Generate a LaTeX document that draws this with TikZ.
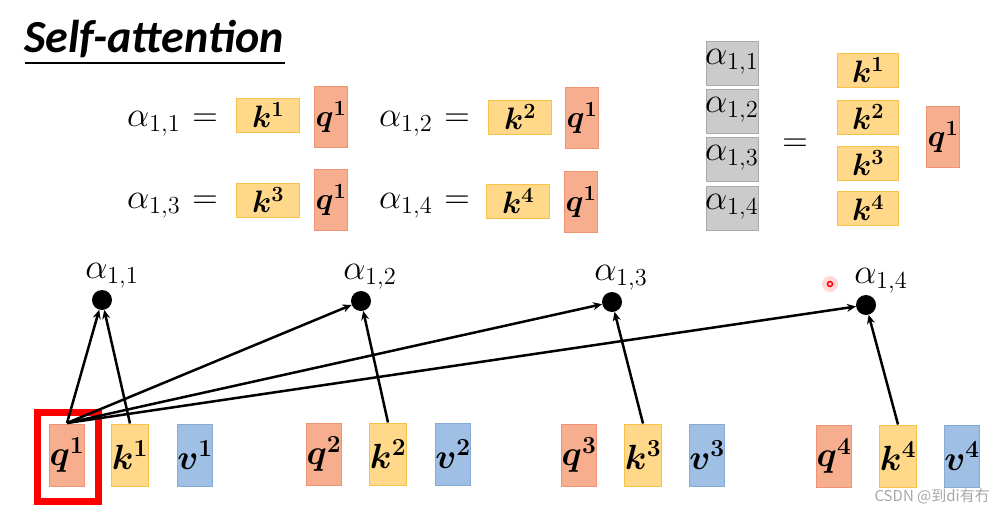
\RequirePackage{fix-cm}
\documentclass[tikz,border=0pt]{standalone}
\usepackage{amsmath}
\usepackage{bm}
\usepackage{graphicx}
\usepackage{fontspec}
\newfontfamily\titlefont{Carlito}
\newfontfamily\cjk{Noto Sans CJK SC}
\usetikzlibrary{arrows.meta}
\newcommand{\amath}[1]{\scalebox{1.7}{$#1$}}
\definecolor{qfill}{HTML}{F6AE8E}
\definecolor{qdraw}{HTML}{EE9472}
\definecolor{kfill}{HTML}{FFD88A}
\definecolor{kdraw}{HTML}{F7C14A}
\definecolor{vfill}{HTML}{9FC0E4}
\definecolor{vdraw}{HTML}{86AAD6}
\definecolor{gfill}{HTML}{CBCBCB}
\definecolor{gdraw}{HTML}{A9A9A9}
\tikzset{
  qbox/.style={draw=qdraw, line width=1pt, fill=qfill, inner sep=0pt, minimum width=34pt, minimum height=62pt},
  kbox/.style={draw=kdraw, line width=1pt, fill=kfill, inner sep=0pt, minimum width=34pt, minimum height=62pt},
  vbox/.style={draw=vdraw, line width=1pt, fill=vfill, inner sep=0pt, minimum width=34pt, minimum height=62pt},
  ktop/.style={draw=kdraw, line width=1pt, fill=kfill, inner sep=0pt, minimum width=63pt, minimum height=34pt},
  qtop/.style={draw=qdraw, line width=1pt, fill=qfill, inner sep=0pt, minimum width=33pt, minimum height=61pt},
  gbox/.style={draw=gdraw, line width=1pt, fill=gfill, inner sep=0pt, minimum width=52pt, minimum height=44pt},
  mtxt/.style={font=\fontsize{20.74}{24}\selectfont, inner sep=0pt},
  btxt/.style={font=\fontsize{35}{38}\selectfont},
  ttxt/.style={font=\fontsize{31}{35}\selectfont},
  dot/.style={circle, fill=black, inner sep=0pt, minimum size=20pt},
  arr/.style={line width=2.5pt, -{Stealth[length=9pt,width=8pt]}},
}
\begin{document}
\begin{tikzpicture}[x=1pt,y=-1pt]
\useasboundingbox (0,0) rectangle (1004,514);
% title
\node[anchor=base west, inner sep=0pt, font=\titlefont\bfseries\itshape\fontsize{46}{50}\selectfont] (title) at (24,52) {Self-attention};
\draw[line width=1.2pt] (25,63) -- (285,63);
% top equations row 1
\node[mtxt, anchor=west] (e11) at (127,124) {\amath{\alpha_{1,1}}};
\node[mtxt] (eq11) at (205,120) {\amath{=}};
\node[ktop, ttxt] (ek11) at (268,115) {$\bm{k^{1}}$};
\node[qtop, ttxt] (eq1a) at (331,117) {$\bm{q^{1}}$};
\node[mtxt, anchor=west] (e12) at (379,124) {\amath{\alpha_{1,2}}};
\node[mtxt] (eq12) at (457,120) {\amath{=}};
\node[ktop, ttxt] (ek12) at (520,117) {$\bm{k^{2}}$};
\node[qtop, ttxt] (eq1b) at (582,118) {$\bm{q^{1}}$};
% row 2
\node[mtxt, anchor=west] (e13) at (127,206) {\amath{\alpha_{1,3}}};
\node[mtxt] (eq13) at (205,202) {\amath{=}};
\node[ktop, ttxt] (ek13) at (268,200) {$\bm{k^{3}}$};
\node[qtop, ttxt] (eq1c) at (331,200) {$\bm{q^{1}}$};
\node[mtxt, anchor=west] (e14) at (379,206) {\amath{\alpha_{1,4}}};
\node[mtxt] (eq14) at (457,202) {\amath{=}};
\node[ktop, ttxt] (ek14) at (518,201) {$\bm{k^{4}}$};
\node[qtop, ttxt] (eq1d) at (581,202) {$\bm{q^{1}}$};
% right matrix form
\node[gbox] (g1) at (732,63) {};
\node[gbox] (g2) at (732,111) {};
\node[gbox] (g3) at (732,159) {};
\node[gbox] (g4) at (732,208) {};
\node[mtxt, anchor=west] (ga1) at (705,62) {\amath{\alpha_{1,1}}};
\node[mtxt, anchor=west] (ga2) at (705,110) {\amath{\alpha_{1,2}}};
\node[mtxt, anchor=west] (ga3) at (705,158) {\amath{\alpha_{1,3}}};
\node[mtxt, anchor=west] (ga4) at (705,207) {\amath{\alpha_{1,4}}};
\node[mtxt] (eqm) at (795,145) {\amath{=}};
\node[ktop, minimum width=61pt, ttxt] (mk1) at (868,70) {$\bm{k^{1}}$};
\node[ktop, minimum width=61pt, ttxt] (mk2) at (868,117) {$\bm{k^{2}}$};
\node[ktop, minimum width=61pt, ttxt] (mk3) at (868,163) {$\bm{k^{3}}$};
\node[ktop, minimum width=61pt, ttxt] (mk4) at (868,208) {$\bm{k^{4}}$};
\node[qtop, ttxt] (mq) at (943,137) {$\bm{q^{1}}$};
% bottom row
\node[qbox, btxt] (q1) at (67,455) {$\bm{q^{1}}$};
\node[kbox, btxt] (k1) at (130,455) {$\bm{k^{1}}$};
\node[vbox, btxt] (v1) at (195,455) {$\bm{v^{1}}$};
\node[qbox, btxt] (q2) at (324,454) {$\bm{q^{2}}$};
\node[kbox, btxt] (k2) at (388,454) {$\bm{k^{2}}$};
\node[vbox, btxt] (v2) at (453,454) {$\bm{v^{2}}$};
\node[qbox, btxt] (q3) at (579,455) {$\bm{q^{3}}$};
\node[kbox, btxt] (k3) at (643,455) {$\bm{k^{3}}$};
\node[vbox, btxt] (v3) at (707,455) {$\bm{v^{3}}$};
\node[qbox, btxt] (q4) at (834,456) {$\bm{q^{4}}$};
\node[kbox, btxt] (k4) at (898,456) {$\bm{k^{4}}$};
\node[vbox, btxt] (v4) at (962,456) {$\bm{v^{4}}$};
\draw[red, line width=7pt] (37,412) rectangle (98,501);
% dots
\node[dot, label={[mtxt, anchor=south, xshift=10pt, yshift=1pt]north:\amath{\alpha_{1,1}}}] (a1) at (102,300) {};
\node[dot, label={[mtxt, anchor=south, xshift=9pt, yshift=1pt]north:\amath{\alpha_{1,2}}}] (a2) at (361,301) {};
\node[dot, label={[mtxt, anchor=south, xshift=9pt, yshift=1pt]north:\amath{\alpha_{1,3}}}] (a3) at (612,302) {};
\node[dot, label={[mtxt, anchor=south, xshift=15pt, yshift=1pt]north:\amath{\alpha_{1,4}}}] (a4) at (866,305) {};
% arrows
\coordinate (qs) at (67,423);
\draw[arr] (qs) -- (a1);
\draw[arr] (qs) -- (a2);
\draw[arr] (qs) -- (a3);
\draw[arr] (qs) -- (a4);
\draw[arr] (k1.north) -- (a1);
\draw[arr] (k2.north) -- (a2);
\draw[arr] (k3.north) -- (a3);
\draw[arr] (k4.north) -- (a4);
% laser pointer
\fill[red!25, opacity=0.6] (830,284) circle (8pt);
\draw[red, line width=1.5pt] (830,284) circle (2.5pt);
% watermark
\node[font=\cjk\fontsize{15}{17}\selectfont, text=gray!70, anchor=base east, inner sep=0pt] (wm) at (990,501) {CSDN @到di有冇};
\end{tikzpicture}
\end{document}
